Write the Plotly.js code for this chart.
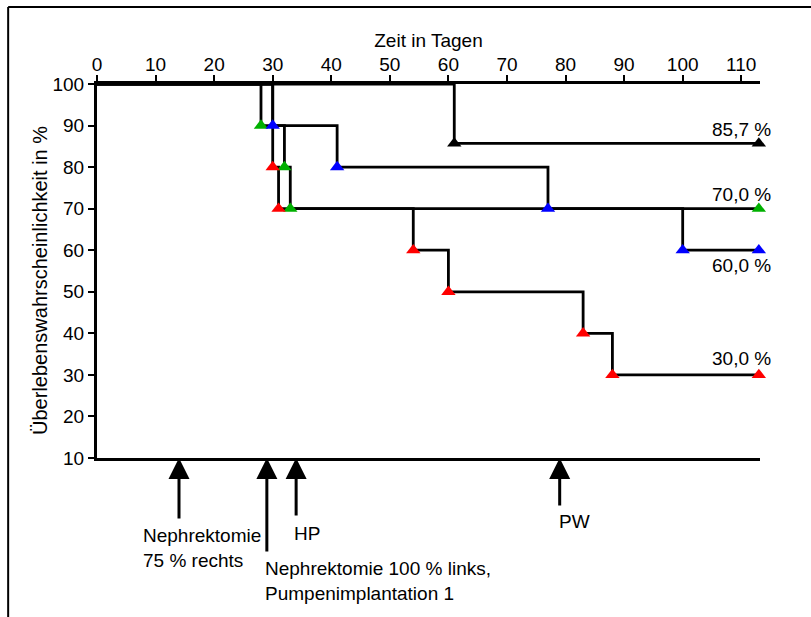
<!DOCTYPE html>
<html>
<head>
<meta charset="utf-8">
<script src="https://cdn.plot.ly/plotly-3.0.1.min.js"></script>
<style>html,body{margin:0;padding:0;background:#fff;}#chart{width:811px;height:617px;}</style>
</head>
<body>
<div id="chart"></div>
<script>
// Kaplan-Meier step data (days, survival %)
const blackDays = [0, 61, 113];
const blackSurv = [100, 85.7, 85.7];
const greenDays = [0, 28, 32, 33, 113];
const greenSurv = [100, 90, 80, 70, 70];
const blueDays  = [0, 30, 41, 77, 100, 113];
const blueSurv  = [100, 90, 80, 70, 60, 60];
const redDays   = [0, 30, 31, 54, 60, 83, 88, 113];
const redSurv   = [100, 80, 70, 60, 50, 40, 30, 30];

// end labels
const endLabels = ['85,7 %', '70,0 %', '60,0 %', '30,0 %'];
const endValues = [85.7, 70, 60, 30];

// events marked by arrows
const eventDays = [14, 29, 34, 79];
const eventTexts = ['Nephrektomie<br>75 % rechts', 'Nephrektomie 100 % links,<br>Pumpenimplantation 1', 'HP', 'PW'];

const xTicks = [0, 10, 20, 30, 40, 50, 60, 70, 80, 90, 100, 110];
const yTicks = [10, 20, 30, 40, 50, 60, 70, 80, 90, 100];

const xTitle = 'Zeit in Tagen';
const yTitle = 'Überlebenswahrscheinlichkeit in %';

const FONT = 'Liberation Sans, Arial, sans-serif';
const groups = [
  {x: blackDays, y: blackSurv, c: '#000000'},
  {x: greenDays, y: greenSurv, c: '#00b000'},
  {x: blueDays,  y: blueSurv,  c: '#0000ff'},
  {x: redDays,   y: redSurv,   c: '#ff0000'}
];

const traces = [];
groups.forEach(g => {
  traces.push({x: g.x, y: g.y, type: 'scatter', mode: 'lines',
    line: {shape: 'hv', color: '#000', width: 2.8}, cliponaxis: false, hoverinfo: 'skip'});
});
groups.forEach(g => {
  traces.push({x: g.x.slice(1), y: g.y.slice(1), type: 'scatter', mode: 'markers',
    marker: {symbol: 'triangle-up', size: 12.5, color: g.c}, cliponaxis: false});
});

const annotations = [];
// end labels
const labelShift = [14, 14, -15, 16];
endLabels.forEach((t, i) => {
  annotations.push({xref: 'paper', yref: 'y', x: 1, y: endValues[i], text: t,
    showarrow: false, xanchor: 'right', yanchor: 'middle', xshift: 13, yshift: labelShift[i],
    font: {family: FONT, size: 19, color: '#000'}});
});
// arrows
const arrowLen = [62, 95, 59, 49];
eventDays.forEach((d, i) => {
  annotations.push({xref: 'x', yref: 'y', x: d, y: 10, text: '', showarrow: true,
    ax: 0, ay: arrowLen[i], arrowhead: 2, arrowsize: 1.4, arrowwidth: 3, arrowcolor: '#000', standoff: 0});
});
// event texts
const textDx = [-38, -4, -4, -3];
const textDy = [-65, -98, -63, -51];
eventTexts.forEach((t, i) => {
  annotations.push({xref: 'x', yref: 'y', x: eventDays[i], y: 10, text: t, showarrow: false,
    xanchor: 'left', yanchor: 'top', align: 'left', xshift: textDx[i], yshift: textDy[i],
    font: {family: FONT, size: 19, color: '#000'}});
});
// y-axis title (rotated)
annotations.push({xref: 'paper', yref: 'paper', x: -0.086, y: 0.476, text: yTitle, textangle: -90,
  showarrow: false, xanchor: 'center', yanchor: 'middle',
  font: {family: FONT, size: 20, color: '#000'}});

const layout = {
  width: 811, height: 617,
  margin: {l: 97, r: 51, t: 84, b: 159},
  paper_bgcolor: '#fff', plot_bgcolor: '#fff',
  showlegend: false,
  font: {family: FONT, size: 19, color: '#000'},
  xaxis: {
    side: 'top', range: [0, 113.2], tickvals: xTicks, ticktext: xTicks.map(String),
    showline: true, mirror: true, linecolor: '#000', linewidth: 3,
    ticks: 'outside', ticklen: 6, tickwidth: 2, tickcolor: '#000',
    ticklabelstandoff: -4,
    showgrid: false, zeroline: false,
    tickfont: {family: FONT, size: 19, color: '#000'},
    title: {text: xTitle, font: {family: FONT, size: 19, color: '#000'}, standoff: 2}
  },
  yaxis: {
    range: [10, 100], tickvals: yTicks, ticktext: yTicks.map(String),
    showline: true, linecolor: '#000', linewidth: 3,
    ticks: 'outside', ticklen: 6, tickwidth: 2, tickcolor: '#000',
    showgrid: false, zeroline: false,
    tickfont: {family: FONT, size: 19, color: '#000'}
  },
  annotations: annotations,
  shapes: [
    {type: 'line', xref: 'paper', yref: 'paper', x0: -0.134, x1: 1.08, y0: 1.206, y1: 1.206,
      line: {color: '#000', width: 2}},
    {type: 'line', xref: 'paper', yref: 'paper', x0: -0.134, x1: -0.134, y0: 1.206, y1: -0.43,
      line: {color: '#000', width: 2}}
  ]
};

Plotly.newPlot('chart', traces, layout, {displayModeBar: false, staticPlot: true});
</script>
</body>
</html>
